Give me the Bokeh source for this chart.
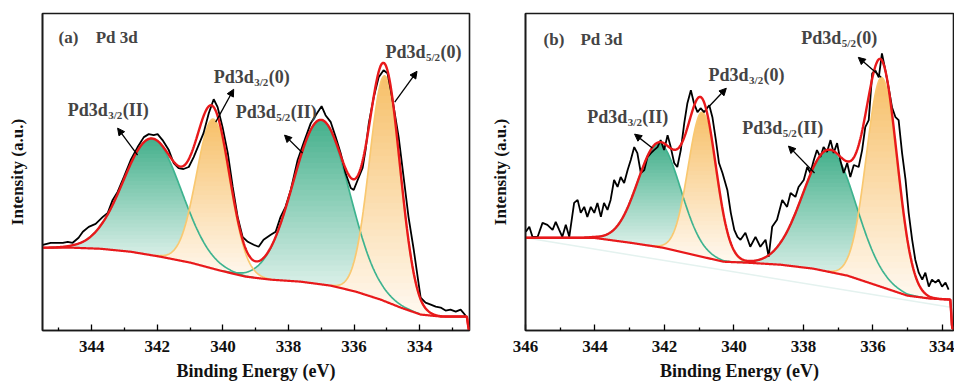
import numpy as np
from bokeh.plotting import figure
from bokeh.models import Range1d, FixedTicker, Label, Arrow, NormalHead
from bokeh.layouts import row
from bokeh.embed import file_html
from bokeh.resources import INLINE

FONT = "'Liberation Serif', 'Times New Roman', serif"

# ---------------- Panel (a) data ----------------
a_energy = [345.49, 345.25, 345.04, 344.88, 344.73, 344.58, 344.40, 344.27, 344.09, 343.88,
            343.66, 343.51, 343.36, 343.21, 343.02, 342.81, 342.60, 342.41, 342.26, 342.11,
            341.99, 341.84, 341.65, 341.50, 341.35, 341.20, 341.04, 340.89, 340.74, 340.59,
            340.43, 340.28, 340.16, 340.01, 339.85, 339.70, 339.55, 339.40, 339.24, 339.06,
            338.91, 338.76, 338.54, 338.39, 338.24, 338.09, 337.93, 337.72, 337.54, 337.32,
            337.11, 336.99, 336.87, 336.71, 336.56, 336.41, 336.26, 336.10, 336.01, 335.89,
            335.74, 335.65, 335.55, 335.40, 335.25, 335.10, 334.98, 334.88, 334.79, 334.64,
            334.49, 334.34, 334.18, 333.97, 333.82, 333.66, 333.51, 333.36, 333.21, 333.06,
            332.90, 332.75, 332.60]
a_intensity = [86, 88, 88, 88, 89, 88, 93, 99, 104, 107,
               114, 118, 131, 139, 154, 171, 184, 194, 197, 196,
               197, 191, 181, 168, 163, 162, 164, 174, 186, 198,
               218, 232, 224, 204, 178, 144, 114, 94, 89, 86,
               84, 91, 96, 99, 114, 124, 141, 171, 188, 208,
               219, 225, 216, 209, 194, 178, 158, 143, 141, 151,
               163, 181, 208, 234, 254, 261, 258, 241, 224, 194,
               154, 114, 81, 33, 28, 26, 24, 23, 20, 21,
               19, 21, 15]
a_bg_energy = [345.50, 344.55, 343.73, 342.81, 341.90, 340.98, 340.07, 339.30, 338.54,
               337.63, 336.71, 335.95, 335.19, 334.58, 333.97, 333.36, 332.56, 332.50]
a_bg_intensity = [83, 83, 82, 79, 74, 68, 60, 54, 51, 49, 45, 39, 31, 23, 16, 14, 14, 0]
# fitted peaks: Pd3d3/2(II), Pd3d3/2(0), Pd3d5/2(II), Pd3d5/2(0)
a_peak_center = [342.15, 340.29, 337.00, 335.06]
a_peak_height = [117, 150, 165, 226]
a_peak_fwhm = [2.07, 1.20, 2.00, 1.10]

# ---------------- Panel (b) data ----------------
b_energy = [345.99, 345.89, 345.80, 345.65, 345.51, 345.37, 345.22, 345.13, 345.03, 344.94,
            344.84, 344.74, 344.60, 344.50, 344.41, 344.31, 344.22, 344.12, 344.02, 343.93,
            343.83, 343.74, 343.64, 343.55, 343.45, 343.35, 343.26, 343.16, 343.06, 342.97,
            342.87, 342.78, 342.68, 342.58, 342.49, 342.39, 342.30, 342.20, 342.11, 342.01,
            341.91, 341.82, 341.72, 341.63, 341.53, 341.43, 341.34, 341.24, 341.15, 341.05,
            340.96, 340.86, 340.71, 340.62, 340.52, 340.43, 340.33, 340.19, 340.09, 339.99,
            339.90, 339.81, 339.67, 339.53, 339.38, 339.24, 339.09, 339.00, 338.90, 338.76,
            338.61, 338.47, 338.37, 338.23, 338.14, 337.99, 337.89, 337.80, 337.70, 337.61,
            337.51, 337.42, 337.32, 337.22, 337.13, 337.03, 336.94, 336.84, 336.74, 336.65,
            336.55, 336.41, 336.31, 336.22, 336.12, 336.02, 335.93, 335.83, 335.74, 335.64,
            335.55, 335.45, 335.35, 335.26, 335.16, 335.06, 334.97, 334.87, 334.78, 334.68,
            334.58, 334.49, 334.39, 334.30, 334.20, 334.11, 334.01, 333.91, 333.82]
b_intensity = [97, 102, 92, 92, 106, 104, 99, 107, 99, 92,
               104, 92, 126, 129, 116, 122, 112, 122, 116, 126,
               112, 126, 119, 129, 149, 142, 152, 146, 159, 169,
               182, 176, 156, 159, 172, 176, 179, 182, 189, 179,
               194, 182, 166, 162, 179, 206, 226, 239, 226, 217,
               221, 217, 224, 212, 189, 166, 156, 139, 116, 99,
               92, 89, 96, 82, 92, 82, 89, 72, 102, 109,
               129, 122, 136, 132, 142, 149, 162, 156, 169, 179,
               172, 182, 177, 189, 176, 186, 169, 156, 166, 152,
               164, 162, 179, 202, 209, 256, 259, 252, 276, 259,
               242, 222, 212, 209, 176, 149, 116, 89, 69, 56,
               49, 56, 42, 49, 46, 49, 42, 46, 39]
b_bg_energy = [346.00, 344.04, 342.98, 342.03, 341.05, 340.30, 339.61, 338.66, 337.71,
               336.73, 335.78, 335.01, 334.35, 333.77, 333.72]
b_bg_intensity = [91, 91, 86, 81, 73, 67, 66, 64, 60, 53, 42, 33, 30, 29, 0]
b_linear_energy = [346.00, 333.72]
b_linear_intensity = [91, 21]
b_peak_center = [342.15, 340.91, 337.25, 335.74]
b_peak_height = [104, 145, 122, 210]
b_peak_fwhm = [1.45, 0.95, 1.80, 1.05]

peak_kind = ["II", "0", "II", "0"]
major_ticks_a = [334, 336, 338, 340, 342, 344]
minor_ticks_a = [333, 335, 337, 339, 341, 343, 345]
major_ticks_b = [334, 336, 338, 340, 342, 344, 346]
minor_ticks_b = [335, 337, 339, 341, 343, 345]

GREEN_TOP = (68, 176, 140)
GREEN_BOT = (243, 250, 247)
ORANGE_TOP = (247, 192, 105)
ORANGE_BOT = (255, 249, 241)
GREEN_LINE = "#3db38f"
ORANGE_LINE = "#f9c870"
RED = "#e8191b"
TEXT_LIFT = 5


def gauss(x, c, h, w):
    return h * np.exp(-4.0 * np.log(2.0) * (x - c) ** 2 / w ** 2)


def hexcol(rgb):
    return "#%02x%02x%02x" % tuple(int(round(v)) for v in rgb)


def make_panel(width, border_left, border_right, xr, yr, energy, inten, bg_e, bg_i,
               centers, heights, fwhms, major, minor, tag, labels, arrows, linear=None):
    p = figure(width=width, height=383, x_range=Range1d(*xr), y_range=Range1d(*yr),
               output_backend="svg", toolbar_location=None,
               min_border_left=border_left, min_border_right=border_right,
               min_border_top=13, min_border_bottom=52)
    p.grid.visible = False
    p.outline_line_color = "#1a1a1a"
    p.outline_line_width = 1.6
    p.background_fill_color = "white"
    p.border_fill_color = "white"

    xs = np.linspace(min(xr), max(xr), 800)
    bg = np.interp(xs, bg_e[::-1], bg_i[::-1])
    comps = [gauss(xs, c, h, w) for c, h, w in zip(centers, heights, fwhms)]

    order = [i for i in range(4) if peak_kind[i] == "II"] + [i for i in range(4) if peak_kind[i] == "0"]
    N = 36
    for i in order:
        c = comps[i]
        top_rgb, bot_rgb = (GREEN_TOP, GREEN_BOT) if peak_kind[i] == "II" else (ORANGE_TOP, ORANGE_BOT)
        mask = c > 0.002 * heights[i]
        T = (bg + c)[mask]
        B = bg[mask]
        ylo, yhi = B.min(), T.max()
        dy = (yhi - ylo) / N
        for k in range(N):
            lo = ylo + k * dy if k > 0 else -1e6
            hi = ylo + (k + 1) * dy + 0.6 * dy
            t = (k + 0.5) / N
            col = tuple(b + (tt - b) * t for b, tt in zip(bot_rgb, top_rgb))
            p.varea(x=xs[mask], y1=np.clip(B, lo, hi), y2=np.clip(T, lo, hi),
                    fill_color=hexcol(col), fill_alpha=1.0)
    for i in order:
        c = comps[i]
        mask = c > 0.002 * heights[i]
        p.line(xs[mask], (bg + c)[mask], line_color=GREEN_LINE if peak_kind[i] == "II" else ORANGE_LINE,
               line_width=1.7)

    if linear is not None:
        p.line(linear[0], linear[1], line_color="#e4f2ef", line_width=1.5)
    p.line(xs, bg, line_color=RED, line_width=2.2)
    p.line(energy, inten, line_color="black", line_width=1.8)
    p.line(xs, bg + sum(comps), line_color=RED, line_width=2.4)

    # axes
    xa = p.xaxis[0]
    xa.ticker = FixedTicker(ticks=major, minor_ticks=minor)
    xa.axis_line_width = 1.6
    xa.axis_line_color = "#1a1a1a"
    xa.major_tick_in = 6
    xa.major_tick_out = 0
    xa.minor_tick_in = 3
    xa.minor_tick_out = 0
    xa.major_tick_line_width = 1.3
    xa.minor_tick_line_width = 1.3
    xa.major_label_text_font = FONT
    xa.major_label_text_font_style = "bold"
    xa.major_label_text_font_size = "17px"
    xa.major_label_text_color = "#111111"
    xa.major_label_standoff = 10
    xa.axis_label = "Binding Energy (eV)"
    xa.axis_label_text_font = FONT
    xa.axis_label_text_font_style = "bold"
    xa.axis_label_text_font_size = "18px"
    xa.axis_label_text_color = "#111111"
    xa.axis_label_standoff = 6

    ya = p.yaxis[0]
    ya.ticker = FixedTicker(ticks=[])
    ya.major_tick_line_color = None
    ya.minor_tick_line_color = None
    ya.axis_line_width = 1.6
    ya.axis_line_color = "#1a1a1a"
    ya.axis_label = "Intensity (a.u.)"
    ya.axis_label_text_font = FONT
    ya.axis_label_text_font_style = "bold"
    ya.axis_label_text_font_size = "17px"
    ya.axis_label_text_color = "#111111"
    ya.axis_label_standoff = 16

    # panel tag
    (tx, ty), (px_, py_) = tag[0], tag[1]
    p.add_layout(Label(x=tx, y=ty, y_offset=TEXT_LIFT, text=tag[2], text_font=FONT,
                       text_font_style="bold", text_font_size="17px",
                       text_baseline="alphabetic", text_align="left"))
    p.add_layout(Label(x=px_, y=py_, y_offset=TEXT_LIFT, text="Pd 3d", text_font=FONT,
                       text_font_style="bold", text_font_size="17px",
                       text_baseline="alphabetic", text_align="left"))

    for (lx, ly, sub, state) in labels:
        p.add_layout(Label(x=lx, y=ly, y_offset=TEXT_LIFT, text="Pd3d", text_font=FONT,
                           text_font_style="bold", text_font_size="18px",
                           text_baseline="alphabetic", text_align="left"))
        p.add_layout(Label(x=lx, y=ly, x_offset=40.5, y_offset=TEXT_LIFT - 5, text=sub,
                           text_font=FONT, text_font_style="bold", text_font_size="11px",
                           text_baseline="alphabetic", text_align="left"))
        p.add_layout(Label(x=lx, y=ly, x_offset=55, y_offset=TEXT_LIFT, text="(" + state + ")",
                           text_font=FONT, text_font_style="bold", text_font_size="18px",
                           text_baseline="alphabetic", text_align="left"))

    for (x0, y0, x1, y1) in arrows:
        p.add_layout(Arrow(end=NormalHead(size=7, fill_color="black", line_color="black"),
                           x_start=x0, y_start=y0, x_end=x1, y_end=y1,
                           line_color="black", line_width=1.3))
    return p


labels_a = [(344.73, 216, "3/2", "II"), (340.28, 249, "3/2", "0"),
            (339.61, 214, "5/2", "II"), (335.04, 274, "5/2", "0")]
arrows_a = [(342.60, 176, 343.21, 203), (340.22, 209, 339.67, 242),
            (337.57, 178, 338.12, 196), (334.76, 229, 334.08, 260)]
labels_b = [(344.22, 207, "3/2", "II"), (340.73, 249, "3/2", "0"),
            (339.76, 196, "5/2", "II"), (338.06, 286, "5/2", "0")]
arrows_b = [(342.35, 181, 342.86, 195), (340.71, 223, 340.22, 241),
            (337.68, 156, 338.43, 183), (335.76, 252, 336.42, 272)]

pa = make_panel(480, 42, 11, (345.5, 332.48), (0, 318), a_energy, a_intensity,
                a_bg_energy, a_bg_intensity, a_peak_center, a_peak_height, a_peak_fwhm,
                major_ticks_a, minor_ticks_a, ((345.01, 289), (343.88, 289), "(a)"),
                labels_a, arrows_a)
pb = make_panel(474, 45, 1, (346.0, 333.68), (-2, 316), b_energy, b_intensity,
                b_bg_energy, b_bg_intensity, b_peak_center, b_peak_height, b_peak_fwhm,
                major_ticks_b, minor_ticks_b, ((345.48, 285), (344.42, 285), "(b)"),
                labels_b, arrows_b, linear=(b_linear_energy, b_linear_intensity))

layout = row(pa, pb)
open("out.html", "w").write(file_html(layout, INLINE))
